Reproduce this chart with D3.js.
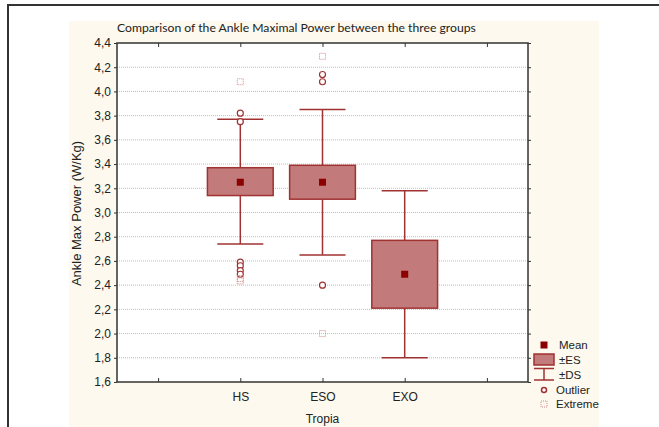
<!DOCTYPE html>
<html>
<head>
<meta charset="utf-8">
<script src="https://cdn.jsdelivr.net/npm/d3@7"></script>
<style>
  body { margin: 0; background: #fff; }
  svg { display: block; }
</style>
</head>
<body>
<svg id="chart"></svg>
<script>
// dados
var groups   = ["HS", "ESO", "EXO"];
var means    = [3.25, 3.25, 2.49];
var esLow    = [3.14, 3.11, 2.21];
var esHigh   = [3.37, 3.39, 2.77];
var dsLow    = [2.74, 2.65, 1.80];
var dsHigh   = [3.77, 3.85, 3.18];
var outliers = [[3.82, 3.75, 2.59, 2.56, 2.52, 2.49], [4.14, 4.08, 2.40], []];
var extremes = [[4.08, 2.455, 2.435], [4.29, 2.00], []];
var yTicks   = [1.6, 1.8, 2.0, 2.2, 2.4, 2.6, 2.8, 3.0, 3.2, 3.4, 3.6, 3.8, 4.0, 4.2, 4.4];
var legendLabels = ["Mean", "±ES", "±DS", "Outlier", "Extreme"];

var width = 659, height = 427;
var plot = {left: 117, top: 43, right: 528, bottom: 382};

var boxFill = "#c27a7a", boxStroke = "#a13232", meanColor = "#8b0000", extremeColor = "#d58a8a";

var svg = d3.select("#chart")
  .attr("width", width)
  .attr("height", height);

// painel creme
svg.append("rect")
  .attr("x", 69).attr("y", 21)
  .attr("width", 530).attr("height", 420)
  .style("fill", "#fdf9ee");

// moldura externa
svg.append("path")
  .attr("d", "M8," + (height + 5) + "V5H" + (width + 5))
  .style("fill", "none")
  .style("stroke", "#333")
  .style("stroke-width", 2);

// área do gráfico
svg.append("rect")
  .attr("x", plot.left).attr("y", plot.top)
  .attr("width", plot.right - plot.left).attr("height", plot.bottom - plot.top)
  .style("fill", "#fff");

// escalas
var xScale = d3.scalePoint()
  .domain(["_a"].concat(groups).concat(["_b"]))
  .range([plot.left, plot.right])
  .padding(0.5);

var yScale = d3.scaleLinear()
  .domain([1.6, 4.4])
  .range([plot.bottom, plot.top]);

var step = xScale.step();
var fmt = function(d) { return d3.format(".1f")(d).replace(".", ","); };

// linhas de grade
svg.append("g").selectAll("line")
  .data(yTicks.slice(1, -1))
  .enter().append("line")
  .attr("x1", plot.left).attr("x2", plot.right)
  .attr("y1", function(d) { return yScale(d); })
  .attr("y2", function(d) { return yScale(d); })
  .style("stroke", "#bdbdbd")
  .style("stroke-width", 1)
  .style("stroke-dasharray", "1,1");

// eixos
var axisFont = "'Liberation Sans', Arial, sans-serif";

var yAxisG = svg.append("g")
  .attr("transform", "translate(" + plot.left + ",0)")
  .call(d3.axisLeft(yScale).tickValues(yTicks).tickFormat(fmt).tickSize(3).tickPadding(3));

var yAxisR = svg.append("g")
  .attr("transform", "translate(" + plot.right + ",0)")
  .call(d3.axisLeft(yScale).tickValues(yTicks).tickFormat("").tickSize(-3));

var xAxisG = svg.append("g")
  .attr("transform", "translate(0," + plot.bottom + ")")
  .call(d3.axisBottom(xScale).tickFormat(function(d) { return d.charAt(0) === "_" ? "" : d; }).tickSize(-4).tickPadding(10));

var xAxisT = svg.append("g")
  .attr("transform", "translate(0," + plot.top + ")")
  .call(d3.axisTop(xScale).tickFormat("").tickSize(-4));

[yAxisG, yAxisR, xAxisG, xAxisT].forEach(function(a) {
  a.select(".domain").remove();
  a.selectAll("line").style("stroke", "#333");
  a.selectAll("text")
    .style("font-family", axisFont)
    .style("font-size", "12px")
    .style("fill", "#222");
});

// moldura do gráfico
svg.append("rect")
  .attr("x", plot.left).attr("y", plot.top)
  .attr("width", plot.right - plot.left).attr("height", plot.bottom - plot.top)
  .style("fill", "none")
  .style("stroke", "#333")
  .style("stroke-width", 1.5);

// caixas
var boxW = step * 0.8, capW = step * 0.56;

var boxes = svg.append("g").selectAll("g")
  .data(groups)
  .enter().append("g");

boxes.append("line")
  .attr("x1", function(d) { return xScale(d); })
  .attr("x2", function(d) { return xScale(d); })
  .attr("y1", function(d, i) { return yScale(dsHigh[i]); })
  .attr("y2", function(d, i) { return yScale(dsLow[i]); })
  .style("stroke", boxStroke).style("stroke-width", 1.5);

boxes.selectAll(".cap")
  .data(function(d, i) { return [{g: d, v: dsHigh[i]}, {g: d, v: dsLow[i]}]; })
  .enter().append("line")
  .attr("class", "cap")
  .attr("x1", function(d) { return xScale(d.g) - capW / 2; })
  .attr("x2", function(d) { return xScale(d.g) + capW / 2; })
  .attr("y1", function(d) { return yScale(d.v); })
  .attr("y2", function(d) { return yScale(d.v); })
  .style("stroke", boxStroke).style("stroke-width", 1.5);

boxes.append("rect")
  .attr("x", function(d) { return xScale(d) - boxW / 2; })
  .attr("y", function(d, i) { return yScale(esHigh[i]); })
  .attr("width", boxW)
  .attr("height", function(d, i) { return yScale(esLow[i]) - yScale(esHigh[i]); })
  .style("fill", boxFill)
  .style("stroke", boxStroke)
  .style("stroke-width", 1.5);

boxes.append("rect")
  .attr("x", function(d) { return xScale(d) - 3.5; })
  .attr("y", function(d, i) { return yScale(means[i]) - 3.5; })
  .attr("width", 7).attr("height", 7)
  .style("fill", meanColor);

// outliers e extremos
groups.forEach(function(g, i) {
  svg.append("g").selectAll("circle")
    .data(outliers[i])
    .enter().append("circle")
    .attr("cx", xScale(g))
    .attr("cy", function(d) { return yScale(d); })
    .attr("r", 3)
    .style("fill", "#fff")
    .style("stroke", boxStroke)
    .style("stroke-width", 1.2);

  svg.append("g").selectAll("rect")
    .data(extremes[i])
    .enter().append("rect")
    .attr("x", xScale(g) - 3)
    .attr("y", function(d) { return yScale(d) - 3; })
    .attr("width", 6).attr("height", 6)
    .style("fill", "none")
    .style("stroke", extremeColor)
    .style("stroke-width", 1)
    .style("stroke-dasharray", "1,1");
});

// títulos
svg.append("text")
  .attr("x", plot.left).attr("y", 32)
  .style("font-family", "Lato, 'Open Sans', sans-serif")
  .style("font-size", "12.2px")
  .style("fill", "#222")
  .text("Comparison of the Ankle Maximal Power between the three groups");

svg.append("text")
  .attr("transform", "translate(81," + ((plot.top + plot.bottom) / 2 + 1) + ") rotate(-90)")
  .attr("text-anchor", "middle")
  .style("font-family", axisFont)
  .style("font-size", "13px")
  .style("fill", "#222")
  .text("Ankle Max Power (W/Kg)");

svg.append("text")
  .attr("x", xScale("ESO")).attr("y", 423)
  .attr("text-anchor", "middle")
  .style("font-family", axisFont)
  .style("font-size", "12px")
  .style("fill", "#222")
  .text("Tropia");

// legenda
var lgX = 544, lgTextX = 558;
var lgY = [345, 360, 374.5, 390, 404];
var legend = svg.append("g");

legend.append("rect")
  .attr("x", lgX - 3.5).attr("y", lgY[0] - 3.5)
  .attr("width", 7).attr("height", 7)
  .style("fill", meanColor);

legend.append("rect")
  .attr("x", lgX - 10).attr("y", lgY[1] - 6)
  .attr("width", 20).attr("height", 11)
  .style("fill", boxFill).style("stroke", boxStroke).style("stroke-width", 1.5);

legend.append("path")
  .attr("d", "M" + (lgX - 10) + "," + (lgY[2] - 6) + "H" + (lgX + 10) +
             "M" + lgX + "," + (lgY[2] - 6) + "V" + (lgY[2] + 5.5) +
             "M" + (lgX - 10) + "," + (lgY[2] + 5.5) + "H" + (lgX + 10))
  .style("fill", "none").style("stroke", boxStroke).style("stroke-width", 1.5);

legend.append("circle")
  .attr("cx", lgX).attr("cy", lgY[3]).attr("r", 2.5)
  .style("fill", "#fff").style("stroke", boxStroke).style("stroke-width", 1.5);

legend.append("rect")
  .attr("x", lgX - 3).attr("y", lgY[4] - 3)
  .attr("width", 6).attr("height", 6)
  .style("fill", "none").style("stroke", extremeColor)
  .style("stroke-width", 1).style("stroke-dasharray", "1,1");

legend.selectAll("text")
  .data(legendLabels)
  .enter().append("text")
  .attr("x", function(d, i) { return i < 3 ? lgTextX + 1 : lgTextX - 2; })
  .attr("y", function(d, i) { return lgY[i] + 4; })
  .style("font-family", axisFont)
  .style("font-size", "11.5px")
  .style("fill", "#222")
  .text(function(d) { return d; });
</script>
</body>
</html>
